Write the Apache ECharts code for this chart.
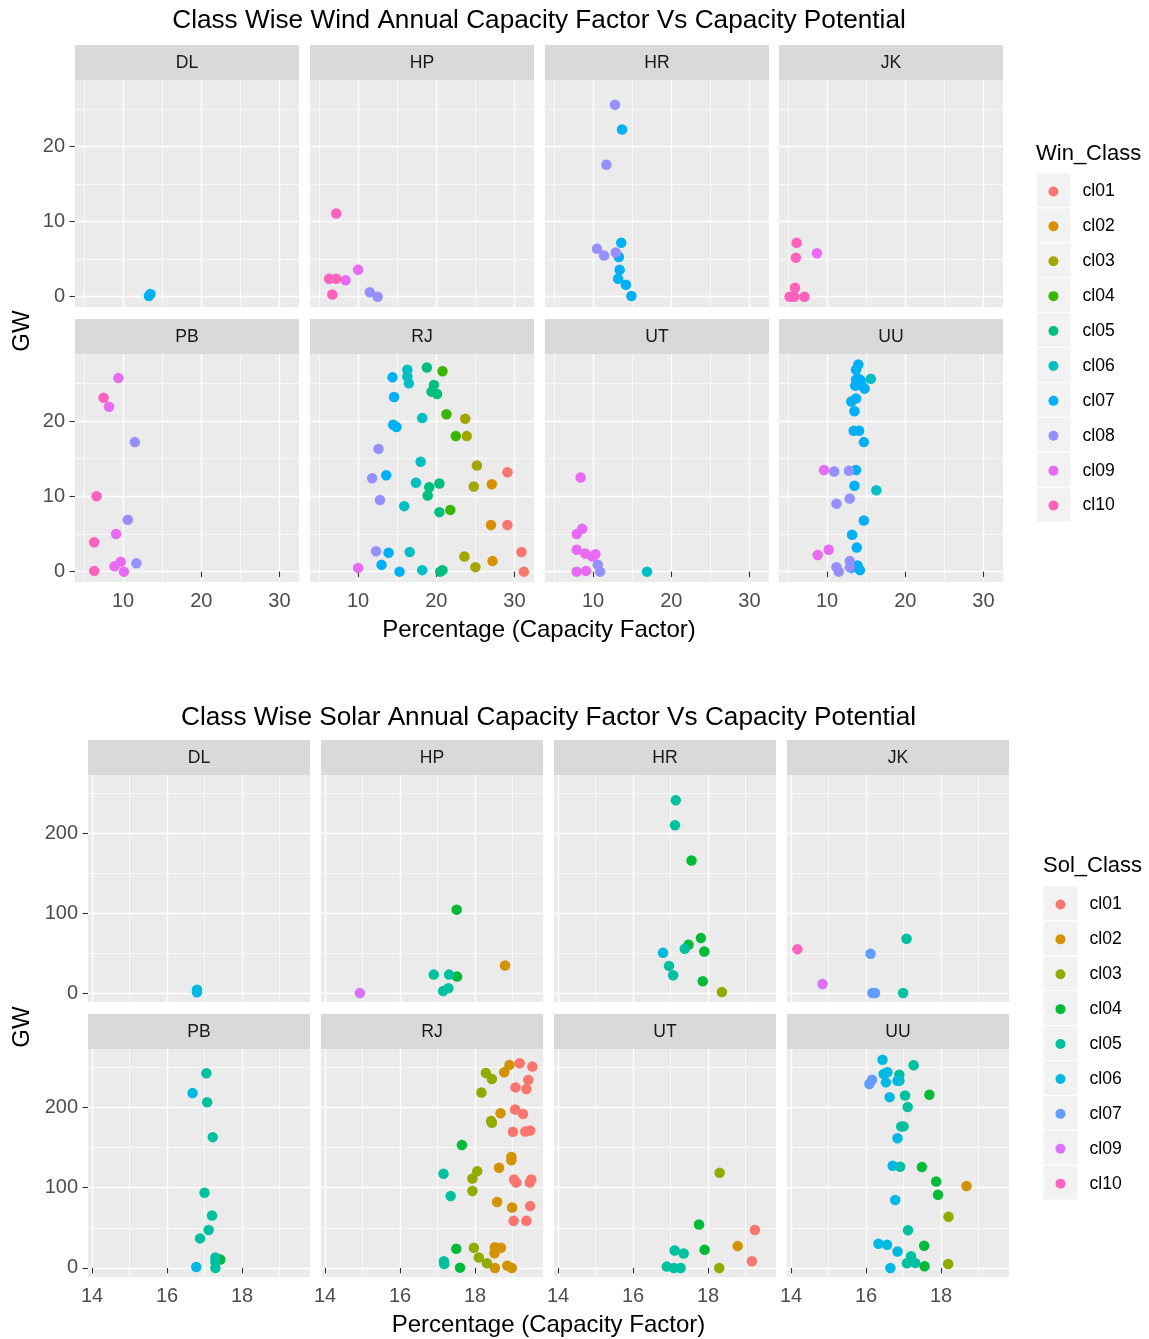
<!DOCTYPE html>
<html>
<head>
<meta charset="utf-8">
<script src="https://cdn.jsdelivr.net/npm/echarts@6/dist/echarts.min.js"></script>
<style>
html, body { margin: 0; padding: 0; background: #ffffff; }
#chart { width: 1149px; height: 1339px; }
</style>
</head>
<body>
<div id="chart"></div>
<script>
// ---- categories & scales ----
const states = ['DL', 'HP', 'HR', 'JK', 'PB', 'RJ', 'UT', 'UU'];

const windClasses = ['cl01', 'cl02', 'cl03', 'cl04', 'cl05', 'cl06', 'cl07', 'cl08', 'cl09', 'cl10'];
const windColors = ['#F8766D', '#D89000', '#A3A500', '#39B600', '#00BF7D', '#00BFC4', '#00B0F6', '#9590FF', '#E76BF3', '#FF62BC'];
const solarClasses = ['cl01', 'cl02', 'cl03', 'cl04', 'cl05', 'cl06', 'cl07', 'cl09', 'cl10'];
const solarColors = ['#F8766D', '#D39200', '#93AA00', '#00BA38', '#00C19F', '#00B9E3', '#619CFF', '#DB72FB', '#FF61C3'];

const windTicksX = [10, 20, 30];
const windMinorX = [5, 15, 25];
const windTicksY = [0, 10, 20];
const windMinorY = [5, 15, 25];
const solarTicksX = [14, 16, 18];
const solarMinorX = [15, 17, 19];
const solarTicksY = [0, 100, 200];
const solarMinorY = [50, 150, 250];

// ---- wind: [class, capacity factor %, GW] ----
const wind_DL = [['cl07', 13.3, 0.1], ['cl07', 13.5, 0.35]];
const wind_HP = [['cl10', 7.2, 11.1], ['cl10', 6.3, 2.4], ['cl10', 7.2, 2.4], ['cl10', 6.7, 0.3], ['cl09', 8.4, 2.2], ['cl09', 10.0, 3.6], ['cl08', 11.5, 0.6], ['cl08', 12.5, 0.0]];
const wind_HR = [['cl08', 12.8, 25.6], ['cl07', 13.7, 22.3], ['cl08', 11.7, 17.6], ['cl07', 13.6, 7.2], ['cl08', 10.5, 6.4], ['cl08', 11.4, 5.5], ['cl07', 13.3, 5.3], ['cl08', 12.9, 5.9], ['cl07', 13.4, 3.6], ['cl07', 13.2, 2.4], ['cl07', 14.2, 1.6], ['cl07', 14.9, 0.1]];
const wind_JK = [['cl10', 6.1, 7.2], ['cl10', 6.0, 5.2], ['cl09', 8.7, 5.8], ['cl10', 5.9, 1.2], ['cl10', 5.2, 0.0], ['cl10', 5.8, 0.0], ['cl10', 7.1, 0.0]];
const wind_PB = [['cl09', 9.4, 25.7], ['cl10', 7.5, 23.1], ['cl09', 8.2, 21.9], ['cl08', 11.5, 17.2], ['cl10', 6.6, 10.0], ['cl08', 10.6, 6.9], ['cl09', 9.1, 5.0], ['cl10', 6.3, 3.9], ['cl09', 9.7, 1.3], ['cl09', 8.9, 0.7], ['cl09', 10.1, 0.0], ['cl08', 11.7, 1.1], ['cl10', 6.3, 0.1]];
const wind_RJ = [['cl06', 16.3, 26.8], ['cl05', 18.8, 27.1], ['cl04', 20.8, 26.6], ['cl07', 14.4, 25.8], ['cl06', 16.3, 25.9], ['cl06', 16.5, 25.0], ['cl05', 19.7, 24.8], ['cl05', 19.4, 23.9], ['cl05', 20.1, 23.6], ['cl07', 14.6, 23.2], ['cl06', 18.2, 20.4], ['cl04', 21.3, 20.9], ['cl03', 23.7, 20.3], ['cl07', 14.5, 19.5], ['cl07', 14.9, 19.2], ['cl04', 22.5, 18.0], ['cl03', 23.9, 18.0], ['cl08', 12.6, 16.3], ['cl06', 18.0, 14.6], ['cl03', 25.2, 14.1], ['cl01', 29.1, 13.2], ['cl08', 11.8, 12.4], ['cl07', 13.6, 12.8], ['cl06', 17.4, 11.8], ['cl05', 20.4, 11.7], ['cl05', 19.1, 11.2], ['cl05', 18.9, 10.1], ['cl03', 24.8, 11.3], ['cl02', 27.1, 11.6], ['cl08', 12.8, 9.5], ['cl06', 15.9, 8.7], ['cl05', 20.4, 7.9], ['cl04', 21.8, 8.2], ['cl02', 27.0, 6.2], ['cl01', 29.1, 6.2], ['cl08', 12.3, 2.7], ['cl07', 13.9, 2.5], ['cl06', 16.6, 2.6], ['cl01', 30.9, 2.6], ['cl03', 23.6, 2.0], ['cl02', 27.2, 1.4], ['cl07', 13.0, 0.9], ['cl09', 10.0, 0.5], ['cl07', 15.3, 0.0], ['cl06', 18.2, 0.2], ['cl05', 20.5, 0.0], ['cl05', 20.8, 0.2], ['cl03', 25.0, 0.6], ['cl01', 31.2, 0.0]];
const wind_UT = [['cl09', 8.4, 12.5], ['cl09', 8.6, 5.7], ['cl09', 7.9, 5.0], ['cl09', 7.9, 2.9], ['cl09', 9.0, 2.4], ['cl09', 10.3, 2.3], ['cl09', 9.9, 2.0], ['cl08', 10.6, 0.9], ['cl08', 10.9, 0.0], ['cl09', 7.9, 0.0], ['cl09', 9.1, 0.1], ['cl06', 16.9, 0.0]];
const wind_UU = [['cl07', 14.0, 27.5], ['cl07', 13.7, 26.8], ['cl07', 14.0, 25.6], ['cl07', 13.7, 25.5], ['cl07', 14.3, 25.4], ['cl07', 13.9, 24.8], ['cl07', 14.5, 24.7], ['cl07', 14.8, 24.3], ['cl07', 13.6, 24.7], ['cl07', 13.7, 23.0], ['cl07', 13.1, 22.6], ['cl07', 13.5, 21.3], ['cl07', 13.4, 18.7], ['cl07', 14.1, 18.7], ['cl07', 14.7, 17.2], ['cl07', 13.7, 13.5], ['cl07', 13.5, 11.4], ['cl07', 14.7, 6.8], ['cl07', 13.2, 4.9], ['cl07', 13.8, 3.2], ['cl07', 13.9, 0.8], ['cl07', 14.2, 0.2], ['cl07', 13.1, 0.5], ['cl06', 15.6, 25.6], ['cl06', 16.3, 10.8], ['cl09', 9.6, 13.5], ['cl09', 10.2, 2.9], ['cl09', 8.8, 2.2], ['cl08', 10.9, 13.3], ['cl08', 12.8, 13.4], ['cl08', 12.9, 9.7], ['cl08', 11.2, 9.0], ['cl08', 12.9, 1.4], ['cl08', 11.2, 0.6], ['cl08', 11.5, 0.0], ['cl08', 12.9, 0.6]];

// ---- solar: [class, capacity factor %, GW] ----
const solar_DL = [['cl06', 16.8, 1.0], ['cl06', 16.8, 4.0]];
const solar_HP = [['cl04', 17.51, 104.2], ['cl02', 18.8, 34.3], ['cl05', 16.9, 23.0], ['cl05', 17.31, 23.0], ['cl04', 17.52, 20.5], ['cl05', 17.29, 5.9], ['cl05', 17.15, 2.5], ['cl09', 14.93, 0.0]];
const solar_HR = [['cl05', 17.14, 241.0], ['cl05', 17.12, 209.6], ['cl04', 17.56, 165.7], ['cl04', 17.81, 68.6], ['cl04', 17.48, 60.3], ['cl05', 17.38, 55.2], ['cl04', 17.9, 51.9], ['cl06', 16.8, 50.2], ['cl05', 16.96, 33.9], ['cl05', 17.07, 22.2], ['cl04', 17.86, 14.6], ['cl03', 18.37, 1.3]];
const solar_JK = [['cl10', 14.17, 54.8], ['cl07', 16.12, 49.0], ['cl05', 17.08, 67.8], ['cl09', 14.84, 11.3], ['cl07', 16.17, 0.0], ['cl07', 16.24, 0.0], ['cl05', 16.99, 0.0]];
const solar_PB = [['cl05', 17.05, 242.3], ['cl06', 16.68, 217.6], ['cl05', 17.07, 206.3], ['cl05', 17.22, 162.8], ['cl05', 17.0, 93.7], ['cl05', 17.2, 65.3], ['cl05', 17.11, 47.3], ['cl05', 16.88, 36.8], ['cl05', 17.29, 13.0], ['cl04', 17.42, 10.5], ['cl05', 17.29, 7.1], ['cl05', 17.29, 0.0], ['cl06', 16.78, 1.3]];
const solar_RJ = [['cl01', 19.19, 254.8], ['cl01', 19.53, 250.6], ['cl01', 19.42, 233.9], ['cl01', 19.08, 224.7], ['cl01', 19.37, 222.6], ['cl01', 19.07, 197.1], ['cl01', 19.28, 191.6], ['cl01', 19.01, 169.5], ['cl01', 19.34, 169.9], ['cl01', 19.47, 171.1], ['cl01', 19.04, 110.0], ['cl01', 19.1, 106.3], ['cl01', 19.5, 110.0], ['cl01', 19.46, 106.3], ['cl01', 19.47, 77.0], ['cl01', 19.03, 58.6], ['cl01', 19.37, 58.6],
  ['cl02', 18.92, 252.7], ['cl02', 18.78, 243.5], ['cl02', 18.68, 192.5], ['cl02', 18.97, 138.1], ['cl02', 18.97, 133.9], ['cl02', 18.64, 124.7], ['cl02', 18.59, 82.0], ['cl02', 18.99, 75.3], ['cl02', 18.53, 25.9], ['cl02', 18.69, 25.1], ['cl02', 18.52, 18.4], ['cl02', 18.53, 0.0], ['cl02', 18.86, 2.9], ['cl02', 18.98, 0.0],
  ['cl03', 18.29, 242.7], ['cl03', 18.45, 235.1], ['cl03', 18.17, 218.4], ['cl03', 18.43, 182.8], ['cl03', 18.45, 180.8], ['cl03', 18.06, 120.5], ['cl03', 17.93, 111.3], ['cl03', 17.93, 95.8], ['cl03', 17.97, 25.1], ['cl03', 18.1, 13.0], ['cl03', 18.32, 5.9],
  ['cl04', 17.65, 153.1], ['cl04', 17.5, 23.8], ['cl04', 17.6, 0.4],
  ['cl05', 17.16, 117.2], ['cl05', 17.35, 89.5], ['cl05', 17.17, 8.4], ['cl05', 17.18, 5.0]];
const solar_UT = [['cl03', 18.31, 118.4], ['cl04', 17.76, 54.0], ['cl01', 19.25, 47.3], ['cl05', 17.11, 21.8], ['cl05', 17.35, 18.0], ['cl04', 17.91, 22.6], ['cl02', 18.79, 27.2], ['cl01', 19.17, 8.4], ['cl05', 16.9, 1.7], ['cl05', 17.09, 0.0], ['cl05', 17.27, 0.0], ['cl03', 18.3, 0.0]];
const solar_UU = [['cl06', 16.44, 259.0], ['cl06', 16.47, 241.4], ['cl06', 16.57, 243.5], ['cl06', 16.53, 231.0], ['cl06', 16.84, 233.0], ['cl06', 16.63, 212.6], ['cl06', 16.84, 161.5], ['cl06', 16.71, 127.2], ['cl06', 16.78, 84.5], ['cl06', 16.33, 30.1], ['cl06', 16.56, 28.9], ['cl06', 16.84, 20.5], ['cl06', 16.65, 0.0],
  ['cl07', 16.09, 228.9], ['cl07', 16.16, 234.3],
  ['cl05', 17.27, 252.3], ['cl05', 16.89, 240.6], ['cl05', 16.89, 233.0], ['cl05', 17.04, 214.6], ['cl05', 17.11, 200.4], ['cl05', 16.94, 176.2], ['cl05', 17.0, 176.2], ['cl05', 16.91, 125.9], ['cl05', 17.12, 46.9], ['cl05', 17.2, 14.6], ['cl05', 17.09, 5.9], ['cl05', 17.31, 6.3],
  ['cl04', 17.69, 215.5], ['cl04', 17.49, 125.5], ['cl04', 17.87, 107.5], ['cl04', 17.92, 91.2], ['cl04', 17.55, 27.6], ['cl04', 17.56, 2.1],
  ['cl02', 18.68, 102.1], ['cl03', 18.2, 63.6], ['cl03', 18.19, 5.0]];

const windPanels = [wind_DL, wind_HP, wind_HR, wind_JK, wind_PB, wind_RJ, wind_UT, wind_UU];
const solarPanels = [solar_DL, solar_HP, solar_HR, solar_JK, solar_PB, solar_RJ, solar_UT, solar_UU];

// ---- styling ----
const FONT = '"Liberation Sans", Arial, Helvetica, sans-serif';
const TICK_SIZE = 20;
const STRIP_SIZE = 17.6;
const AXIS_TITLE_SIZE = 24;
const TITLE_SIZE = 26.2;
const LEGEND_SIZE = 17.6;
const LEGEND_TITLE_SIZE = 22;

const facets = [
  {
    key: 'Win_Class',
    title: 'Class Wise Wind Annual Capacity Factor Vs Capacity Potential',
    panels: windPanels, classes: windClasses, colors: windColors,
    ticksX: windTicksX, minorX: windMinorX, ticksY: windTicksY, minorY: windMinorY,
    xRange: [3.85, 32.5], yRange: [-1.375, 28.9],
    lefts: [75, 310, 545, 779], width: 224,
    tops: [80, 354], heights: [227, 228], stripH: 35,
    titleY: 21, xTitleY: 630, yTitleY: 331, yTitleX: 22,
    legendTitleX: 1036, legendTitleY: 154, legendKeyX: 1036, legendKeyTop: 173
  },
  {
    key: 'Sol_Class',
    title: 'Class Wise Solar Annual Capacity Factor Vs Capacity Potential',
    panels: solarPanels, classes: solarClasses, colors: solarColors,
    ticksX: solarTicksX, minorX: solarMinorX, ticksY: solarTicksY, minorY: solarMinorY,
    xRange: [13.893, 19.813], yRange: [-11.25, 272.5],
    lefts: [88, 321, 554, 787], width: 222,
    tops: [775, 1049], heights: [227, 228], stripH: 35,
    titleY: 718, xTitleY: 1325, yTitleY: 1027, yTitleX: 22,
    legendTitleX: 1043, legendTitleY: 866, legendKeyX: 1043, legendKeyTop: 886
  }
];

const grid = [], xAxis = [], yAxis = [], series = [], legend = [], graphic = [];
const KEY = 34.9;

function valueAxis(gi, range, values, showMarks, isX, minor) {
  return {
    type: 'value', gridIndex: gi, min: range[0], max: range[1],
    position: isX ? 'bottom' : 'left',
    axisLine: { show: false },
    axisTick: {
      show: showMarks && !minor, length: 5.5, customValues: values,
      lineStyle: { color: '#333333', width: 1.1 }
    },
    axisLabel: {
      show: showMarks && !minor, customValues: values, margin: isX ? 9 : 10,
      color: '#4D4D4D', fontSize: TICK_SIZE, fontFamily: FONT,
      padding: isX ? 0 : [5, 0, 0, 0]
    },
    splitLine: { show: true, lineStyle: { color: '#FFFFFF', width: minor ? 0.7 : 1.4 } },
    minorTick: { show: false }, minorSplitLine: { show: false },
    silent: true
  };
}

facets.forEach(function (f) {
  f.panels.forEach(function (pts, p) {
    const row = Math.floor(p / 4), col = p % 4;
    const gi = grid.length;
    const left = f.lefts[col], top = f.tops[row], h = f.heights[row];
    grid.push({
      left: left, top: top, width: f.width, height: h,
      show: true, backgroundColor: '#EBEBEB', borderWidth: 0,
      containLabel: false, outerBoundsMode: 'none'
    });
    // minor axes first (grid lines only), then the major ones carrying data
    xAxis.push(valueAxis(gi, f.xRange, f.minorX, false, true, true));
    yAxis.push(valueAxis(gi, f.yRange, f.minorY, false, false, true));
    const xi = xAxis.length, yi = yAxis.length;
    xAxis.push(valueAxis(gi, f.xRange, f.ticksX, row === 1, true, false));
    yAxis.push(valueAxis(gi, f.yRange, f.ticksY, col === 0, false, false));

    f.classes.forEach(function (cls, ci) {
      const data = pts.filter(function (d) { return d[0] === cls; })
                      .map(function (d) { return [d[1], d[2]]; });
      if (!data.length) return;
      series.push({
        type: 'scatter', name: f.key + ' ' + cls,
        xAxisIndex: xi, yAxisIndex: yi, data: data,
        symbol: 'circle', symbolSize: 10.5,
        itemStyle: { color: f.colors[ci], opacity: 1 },
        emphasis: { disabled: true }, silent: true, animation: false
      });
    });

    // facet strip
    graphic.push({
      type: 'rect', silent: true,
      shape: { x: left, y: top - f.stripH, width: f.width, height: f.stripH },
      style: { fill: '#D9D9D9' }
    });
    graphic.push({
      type: 'text', silent: true, x: left + f.width / 2, y: top - f.stripH / 2 + 1,
      style: { text: states[p], fill: '#1A1A1A', fontSize: STRIP_SIZE, fontFamily: FONT, align: 'center', verticalAlign: 'middle' }
    });
  });

  const midX = (f.lefts[0] + f.lefts[3] + f.width) / 2;
  graphic.push({
    type: 'text', silent: true, x: midX, y: f.titleY,
    style: { text: f.title, fill: '#000000', fontSize: TITLE_SIZE, fontFamily: FONT, align: 'center', verticalAlign: 'middle' }
  });
  graphic.push({
    type: 'text', silent: true, x: midX, y: f.xTitleY,
    style: { text: 'Percentage (Capacity Factor)', fill: '#000000', fontSize: AXIS_TITLE_SIZE, fontFamily: FONT, align: 'center', verticalAlign: 'middle' }
  });
  graphic.push({
    type: 'text', silent: true, x: f.yTitleX, y: f.yTitleY, rotation: Math.PI / 2,
    style: { text: 'GW', fill: '#000000', fontSize: AXIS_TITLE_SIZE, fontFamily: FONT, align: 'center', verticalAlign: 'middle' }
  });

  // legend title and key backgrounds
  graphic.push({
    type: 'text', silent: true, x: f.legendTitleX, y: f.legendTitleY,
    style: { text: f.key, fill: '#000000', fontSize: LEGEND_TITLE_SIZE, fontFamily: FONT, align: 'left', verticalAlign: 'middle' }
  });
  f.classes.forEach(function (cls, ci) {
    graphic.push({
      type: 'rect', silent: true, z: -1,
      shape: { x: f.legendKeyX, y: f.legendKeyTop + ci * KEY, width: KEY, height: KEY },
      style: { fill: '#F2F2F2', stroke: '#FFFFFF', lineWidth: 1 }
    });
  });

  legend.push({
    data: f.classes.map(function (c) { return f.key + ' ' + c; }),
    orient: 'vertical', left: f.legendKeyX + KEY / 2 - 5, top: f.legendKeyTop + KEY / 2 - 9,
    padding: 0, itemWidth: 10, itemHeight: 10, itemGap: KEY - 20,
    icon: 'circle', selectedMode: false,
    formatter: function (n) { return n.split(' ')[1]; },
    textStyle: { fontSize: LEGEND_SIZE, fontFamily: FONT, color: '#000000', lineHeight: 20, padding: [0, 0, 0, 19] }
  });
});

const chart = echarts.init(document.getElementById('chart'), null, { renderer: 'canvas' });
chart.setOption({
  animation: false,
  backgroundColor: '#FFFFFF',
  textStyle: { fontFamily: FONT },
  grid: grid, xAxis: xAxis, yAxis: yAxis,
  series: series, legend: legend, graphic: graphic,
  tooltip: { show: false }
});
</script>
</body>
</html>
